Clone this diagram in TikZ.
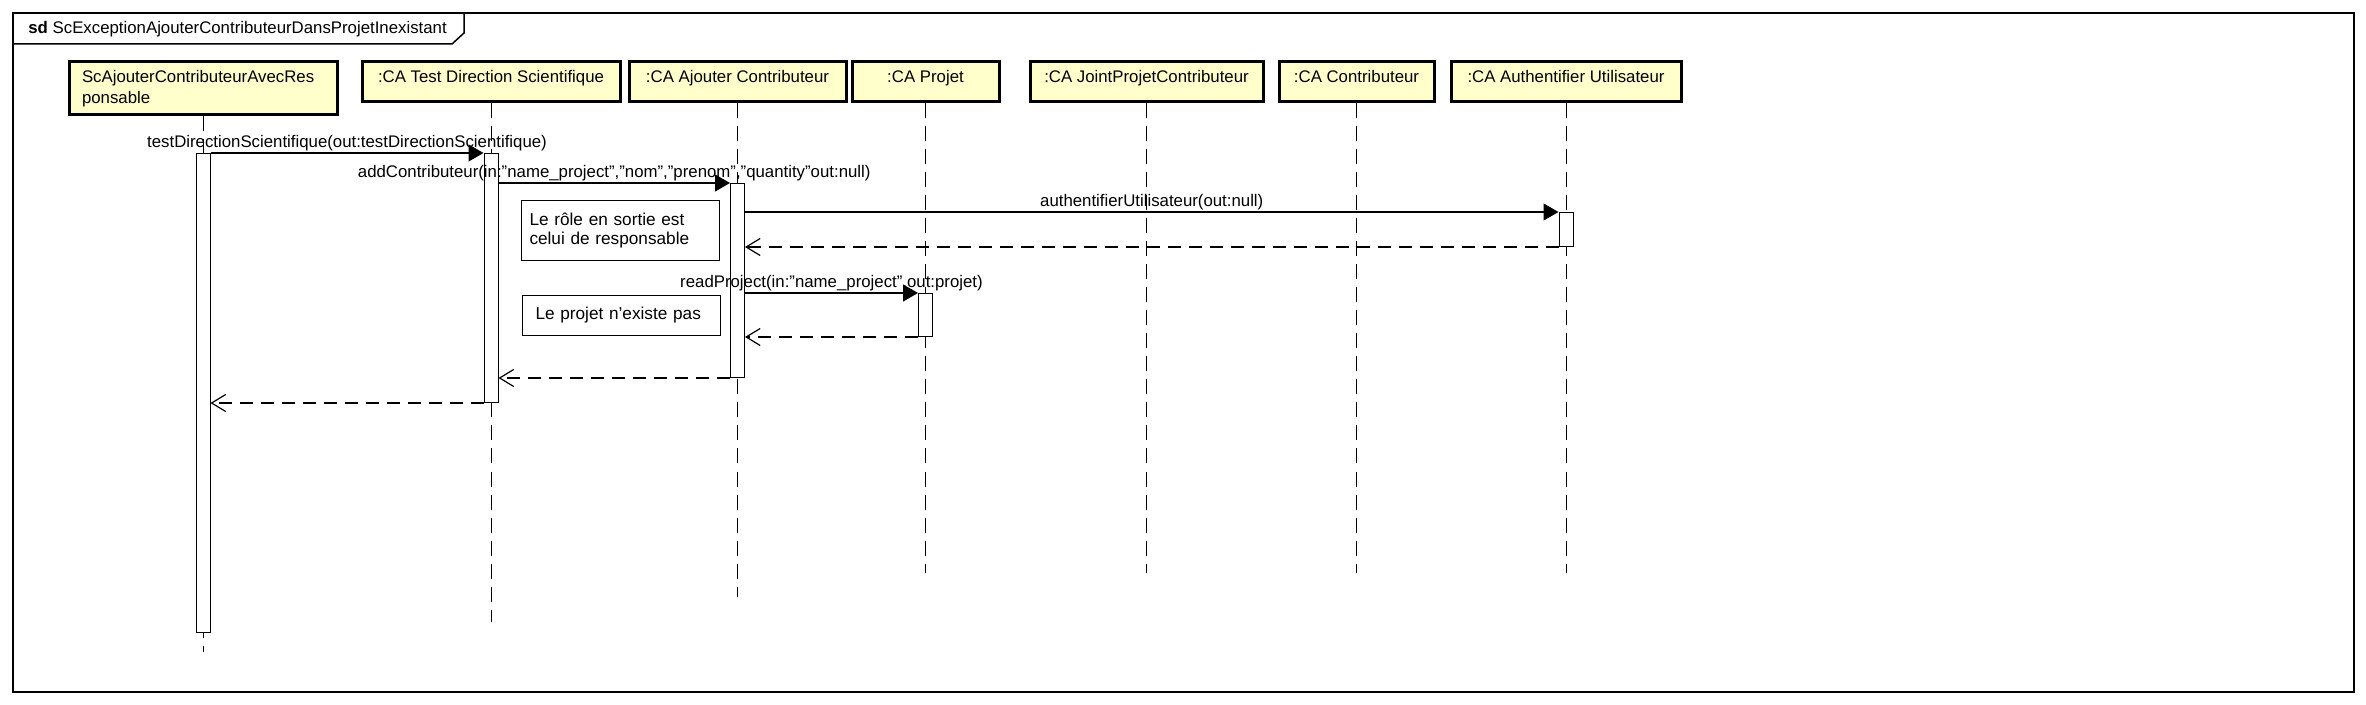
\documentclass[tikz,border=0pt]{standalone}
\usepackage{fontspec}
\setmainfont{Liberation Sans}
\usetikzlibrary{arrows.meta}
\definecolor{lifebox}{HTML}{FFFFCC}

\begin{document}
\begin{tikzpicture}[x=0.5pt, y=-0.5pt, font=\fontsize{8.4}{10.5}\selectfont,
  actor/.style={draw, line width=1.5pt, fill=lifebox, inner sep=0pt, minimum height=20pt},
  part/.style={actor, text height=6.1pt, text depth=5.1pt},
  activ/.style={draw, fill=white, line width=0.5pt, minimum width=7pt, inner sep=0pt, anchor=north},
  life/.style={line width=0.5pt, dash pattern=on 7.5pt off 4pt},
  call/.style={line width=0.6pt, -{Triangle[length=7.5pt,width=8.5pt]}},
  reply/.style={line width=0.6pt, dash pattern=on 6.5pt off 4pt, -{Straight Barb[length=7pt,width=8.5pt]}},
  lbl/.style={above, inner sep=0.5pt},
  note/.style={draw, line width=0.5pt, fill=white, align=left, anchor=north west, inner ysep=0pt,
    font=\fontsize{8.6}{9.5}\selectfont}]
 \useasboundingbox (0,0) rectangle (2366,705);
 \draw[line width=0.75pt] (13,13) rectangle (2354,692);
 \draw[line width=0.75pt] (13,44) -- (452,44) -- (464,33) -- (464,13);
 \node[anchor=west, inner sep=2pt] (title) at (24,29) {\textbf{sd} ScExceptionAjouterContributeurDansProjetInexistant};

 \node[actor, minimum width=134pt, minimum height=26.5pt, text width=121pt, align=left] (scAvec) at (203,88.5) {ScAjouterContributeurAvecRes\\ponsable};
 \node[part, minimum width=129pt] (testDir) at (491,82) {:CA Test Direction Scientifique};
 \node[part, minimum width=108.5pt] (ajout) at (737.5,82) {:CA Ajouter Contributeur};
 \node[part, minimum width=73.5pt] (projet) at (925.5,82) {:CA Projet};
 \node[part, minimum width=116.5pt] (joint) at (1146.5,82) {:CA JointProjetContributeur};
 \node[part, minimum width=77.5pt] (contrib) at (1356.5,82) {:CA Contributeur};
 \node[part, minimum width=115pt] (authent) at (1566,82) {:CA Authentifier Utilisateur};

 \foreach \p/\e in {scAvec/652, testDir/622, ajout/597, projet/573, joint/573, contrib/573, authent/573}
  \draw[life] (\p.south) -- (\p.south |- 0,\e);

 \node[activ, minimum height=239.5pt] (aAvec) at (203,153) {};
 \node[activ, minimum height=124.5pt] (aTest) at (491,153) {};
 \node[activ, minimum height=97pt] (aAjout) at (737.5,183) {};
 \node[activ, minimum height=17pt] (aAuth) at (1566,212) {};
 \node[activ, minimum height=21.5pt] (aProjet) at (925.5,293) {};

 \node[note, minimum width=99pt, minimum height=30pt, text width=91pt, inner xsep=4pt] (role) at (521,200) {Le rôle en sortie est\\celui de responsable};
 \node[note, minimum width=99pt, minimum height=20pt, text width=86pt, inner xsep=6.5pt] (absent) at (522,295) {Le projet n'existe pas};

 \draw[call] (aAvec.north east) -- node[lbl] {testDirectionScientifique(out:testDirectionScientifique)} (aTest.north west);
 \draw[call] (aTest.east |- aAjout.north) -- node[lbl] {addContributeur(in:"name\_project","nom","prenom","quantity"out:null)} (aAjout.north west);
 \draw[call] (aAjout.east |- aAuth.north) -- node[lbl] {authentifierUtilisateur(out:null)} (aAuth.north west);
 \draw[reply] (aAuth.south west) -- (aAjout.east |- aAuth.south);
 \draw[call] (aAjout.east |- aProjet.north) -- node[lbl] {readProject(in:"name\_project".out:projet)} (aProjet.north west);
 \draw[reply] (aProjet.south west) -- (aAjout.east |- aProjet.south);
 \draw[reply] (aAjout.south west) -- (aTest.east |- aAjout.south);
 \draw[reply] (aTest.south west) -- (aAvec.east |- aTest.south);
\end{tikzpicture}
\end{document}
